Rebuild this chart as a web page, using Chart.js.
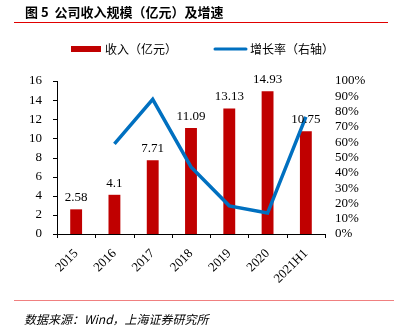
<!DOCTYPE html>
<html>
<head>
<meta charset="utf-8">
<script src="https://cdn.jsdelivr.net/npm/chart.js@4"></script>
<style>
html, body { margin: 0; padding: 0; background: #fff; }
#wrap { width: 394px; height: 336px; }
</style>
</head>
<body>
<div id="wrap"><canvas id="revChart" width="394" height="336"></canvas></div>
<script>
const years = ['2015', '2016', '2017', '2018', '2019', '2020', '2021H1'];
const revenue = [2.58, 4.1, 7.71, 11.09, 13.13, 14.93, 10.75];
const growth = [null, 58.9, 88.0, 43.8, 18.4, 13.7, 76.5];
const leftTicks = [0, 2, 4, 6, 8, 10, 12, 14, 16];

const serif = '"Liberation Serif", "Times New Roman", serif';
const cjk = '"Noto Sans CJK SC", sans-serif';

// title, rules, legend, source, tick marks, bar value labels
const decor = {
  id: 'decor',
  afterDraw(c) {
    const ctx = c.ctx;
    ctx.save();
    ctx.fillStyle = '#000';
    ctx.textBaseline = 'middle';
    ctx.font = 'bold 13px ' + cjk;
    ctx.fillText('图 5  公司收入规模（亿元）及增速', 25, 12);
    ctx.strokeStyle = '#e00000';
    ctx.lineWidth = 1;
    ctx.beginPath(); ctx.moveTo(14, 22.5); ctx.lineTo(388, 22.5); ctx.stroke();

    // legend
    ctx.fillStyle = '#c00000';
    ctx.fillRect(71, 46, 30, 6);
    ctx.fillStyle = '#000';
    ctx.font = '12px ' + cjk;
    ctx.fillText('收入（亿元）', 105, 49);
    ctx.strokeStyle = '#0070c0';
    ctx.lineWidth = 3;
    ctx.lineCap = 'round';
    ctx.beginPath(); ctx.moveTo(215, 49); ctx.lineTo(246, 49); ctx.stroke();
    ctx.fillText('增长率（右轴）', 250, 49);

    // tick marks
    const xs = c.scales.x, ys = c.scales.y, area = c.chartArea;
    const step = (area.right - area.left) / years.length;
    ctx.strokeStyle = '#000';
    ctx.lineWidth = 1;
    ctx.lineCap = 'butt';
    ctx.beginPath();
    for (let i = 0; i <= years.length; i++) {
      const x = Math.round(xs.left + step * i) + 0.5;
      ctx.moveTo(x, area.bottom); ctx.lineTo(x, area.bottom + 4);
    }
    leftTicks.forEach(v => {
      const y = Math.round(ys.getPixelForValue(v)) + 0.5;
      ctx.moveTo(area.left - 4, y); ctx.lineTo(area.left, y);
    });
    ctx.stroke();

    // footer
    ctx.strokeStyle = '#f08080';
    ctx.beginPath(); ctx.moveTo(14, 300.5); ctx.lineTo(394, 300.5); ctx.stroke();
    ctx.font = 'italic 12px ' + cjk;
    ctx.fillText('数据来源：Wind，上海证券研究所', 24, 319);

    // bar value labels
    const meta = c.getDatasetMeta(0);
    ctx.font = '13px ' + serif;
    ctx.textAlign = 'center';
    ctx.textBaseline = 'bottom';
    meta.data.forEach((bar, i) => {
      ctx.fillText(String(revenue[i]), bar.x, bar.y - 5);
    });
    ctx.restore();
  }
};

new Chart(document.getElementById('revChart'), {
  data: {
    labels: years,
    datasets: [{
      type: 'bar',
      label: '收入（亿元）',
      data: revenue,
      backgroundColor: '#c00000',
      yAxisID: 'y',
      barPercentage: 0.62,
      categoryPercentage: 0.5,
      order: 2
    }, {
      type: 'line',
      label: '增长率（右轴）',
      data: growth,
      borderColor: '#0070c0',
      borderWidth: 3.5,
      pointRadius: 0,
      tension: 0,
      yAxisID: 'y1',
      order: 1
    }]
  },
  options: {
    responsive: false,
    animation: false,
    layout: { padding: { top: 81, left: 0, right: 0, bottom: 0 } },
    plugins: { legend: { display: false }, tooltip: { enabled: false } },
    scales: {
      x: {
        grid: { display: false },
        border: { color: '#000' },
        ticks: { color: '#000', font: { family: serif, size: 13 }, maxRotation: 45, minRotation: 45, padding: 4 },
        afterFit(s) { s.height = 102; }
      },
      y: {
        position: 'left',
        min: 0, max: 16,
        afterBuildTicks(s) { s.ticks = leftTicks.map(v => ({ value: v })); },
        grid: { display: false },
        border: { color: '#000' },
        ticks: { color: '#000', font: { family: serif, size: 13 }, padding: 7 },
        afterFit(s) { s.width = 57; }
      },
      y1: {
        position: 'right',
        min: 0, max: 100,
        grid: { display: false, drawTicks: false },
        border: { display: false },
        ticks: { color: '#000', stepSize: 10, autoSkip: false, font: { family: serif, size: 13 }, padding: 10, callback: v => v + '%' },
        afterFit(s) { s.width = 69; }
      }
    }
  },
  plugins: [decor]
});
</script>
</body>
</html>
